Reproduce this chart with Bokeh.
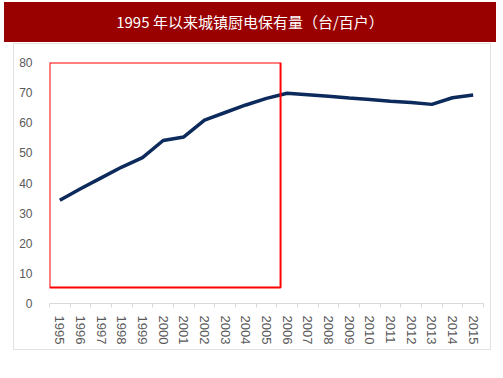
from bokeh.plotting import figure
from bokeh.models import Div, FixedTicker, BoxAnnotation, Range1d
from bokeh.layouts import column
from bokeh.embed import file_html
from bokeh.resources import INLINE

# ---- data ----
title_text = "1995 年以来城镇厨电保有量（台/百户）"
years = [1995, 1996, 1997, 1998, 1999, 2000, 2001, 2002, 2003, 2004, 2005,
         2006, 2007, 2008, 2009, 2010, 2011, 2012, 2013, 2014, 2015]
ownership = [34.3, 38.1, 41.7, 45.3, 48.4, 54.1, 55.3, 60.9, 63.4, 65.9, 68.1,
             69.8, 69.3, 68.8, 68.2, 67.7, 67.1, 66.7, 66.1, 68.3, 69.2]
y_ticks = [0, 10, 20, 30, 40, 50, 60, 70, 80]
highlight_left, highlight_right = 1994.5, 2005.68
highlight_bottom, highlight_top = 5.3, 80

grey_text = "#595959"

header = Div(
    text=title_text,
    width=492, height=40,
    styles={"background-color": "#990000", "color": "white",
            "text-align": "center", "font-size": "15px",
            "line-height": "40px", "font-family": "'Noto Sans CJK SC'"},
    margin=(0, 0, 0, 0),
)

p = figure(width=478, height=307, output_backend="svg", toolbar_location=None,
           x_range=Range1d(years[0] - 0.5, years[-1] + 0.5),
           y_range=Range1d(0, 80),
           min_border_left=35, min_border_right=9,
           min_border_top=18, min_border_bottom=48,
           margin=(1, 0, 0, 9),
           styles={"border": "1px solid #e3e3e3", "box-sizing": "border-box"})
p.outline_line_color = None
p.xgrid.visible = False
p.ygrid.visible = False

p.line(years, ownership, line_color="#0c2a5b", line_width=3.5)

box = BoxAnnotation(left=highlight_left, right=highlight_right,
                    bottom=highlight_bottom, top=highlight_top,
                    fill_color=None, fill_alpha=0,
                    line_color="#ff0000", line_alpha=1.0, line_width=2)
p.add_layout(box)

xa = p.xaxis[0]
boundaries = [y - 0.5 for y in years] + [years[-1] + 0.5]
xa.ticker = FixedTicker(ticks=years, minor_ticks=boundaries)
xa.major_label_overrides = {y: str(y) for y in years}
xa.major_label_orientation = "vertical"
xa.major_tick_line_color = None
xa.minor_tick_line_color = "#d9d9d9"
xa.minor_tick_out = 4
xa.minor_tick_in = 0
xa.axis_line_color = "#d9d9d9"
xa.major_label_text_color = grey_text
xa.major_label_text_font = "Liberation Sans"
xa.major_label_text_font_size = "13px"
xa.major_label_standoff = 6

ya = p.yaxis[0]
ya.ticker = FixedTicker(ticks=y_ticks)
ya.axis_line_color = None
ya.major_tick_line_color = None
ya.minor_tick_line_color = None
ya.major_label_text_color = grey_text
ya.major_label_text_font = "Liberation Sans"
ya.major_label_text_font_size = "12px"
ya.major_label_standoff = 11

layout = column(header, p, spacing=0,
                styles={"position": "absolute", "left": "4px", "top": "2px"})

open("out.html", "w").write(file_html(layout, INLINE))
